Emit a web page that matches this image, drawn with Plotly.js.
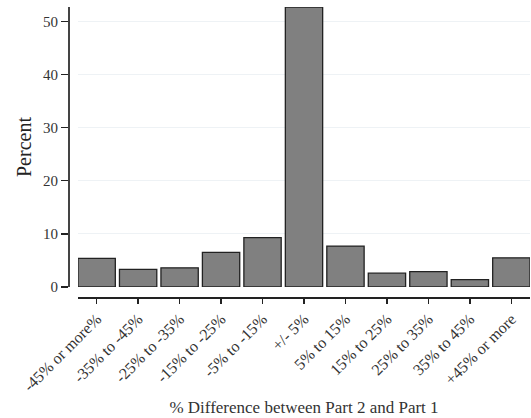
<!DOCTYPE html>
<html><head><meta charset="utf-8">
<script src="https://cdn.plot.ly/plotly-3.0.1.min.js"></script>
<style>html,body{margin:0;padding:0;background:#fff;}#chart{width:531px;height:418px;}</style>
</head><body><div id="chart"></div>
<script>
const categories = ["-45% or more%", "-35% to -45%", "-25% to -35%", "-15% to -25%", "-5% to -15%", "+/- 5%", "5% to 15%", "15% to 25%", "25% to 35%", "35% to 45%", "+45% or more"];
const percentValues = [5.4, 3.3, 3.6, 6.5, 9.3, 52.7, 7.7, 2.6, 2.9, 1.4, 5.5];
const yTickValues = [0, 10, 20, 30, 40, 50];

const fontFam = "Liberation Serif, DejaVu Serif, serif";
const trace = {
  type: "bar",
  x: categories.map((c, i) => i),
  y: percentValues,
  width: 0.9,
  marker: {color: "#808080", line: {color: "#222222", width: 1.3}},
  hoverinfo: "x+y"
};
const layout = {
  width: 531, height: 418,
  margin: {l: 68, r: 1, t: 7, b: 121},
  paper_bgcolor: "#ffffff", plot_bgcolor: "#ffffff",
  showlegend: false,
  font: {family: fontFam, color: "#333333", size: 13},
  xaxis: {
    domain: [10/462, 1],
    anchor: "free", position: 0,
    range: [-0.45, 10.45],
    tickmode: "array",
    tickvals: categories.map((c, i) => i),
    ticktext: categories,
    tickangle: -45,
    ticks: "outside", ticklen: 5, tickwidth: 1.3, tickcolor: "#222",
    showline: true, linecolor: "#222", linewidth: 1.5,
    showgrid: false, zeroline: false,
    tickfont: {family: fontFam, size: 16, color: "#333"},
    title: {text: "% Difference between Part 2 and Part 1", font: {family: fontFam, size: 17, color: "#333"}, standoff: 7}
  },
  yaxis: {
    domain: [10/290, 1],
    anchor: "free", position: 0,
    range: [0, 52.7],
    tickmode: "array",
    tickvals: yTickValues,
    ticks: "outside", ticklen: 7, tickwidth: 1.3, tickcolor: "#222",
    showline: true, linecolor: "#444", linewidth: 1.5,
    showgrid: true, gridcolor: "#eef2f5", gridwidth: 1.2,
    zeroline: false,
    tickfont: {family: fontFam, size: 15, color: "#333"},
    title: {text: "Percent", font: {family: fontFam, size: 20, color: "#222"}, standoff: 4}
  },
  bargap: 0.1
};
Plotly.newPlot("chart", [trace], layout, {displayModeBar: false, staticPlot: true});
</script>
</body></html>
